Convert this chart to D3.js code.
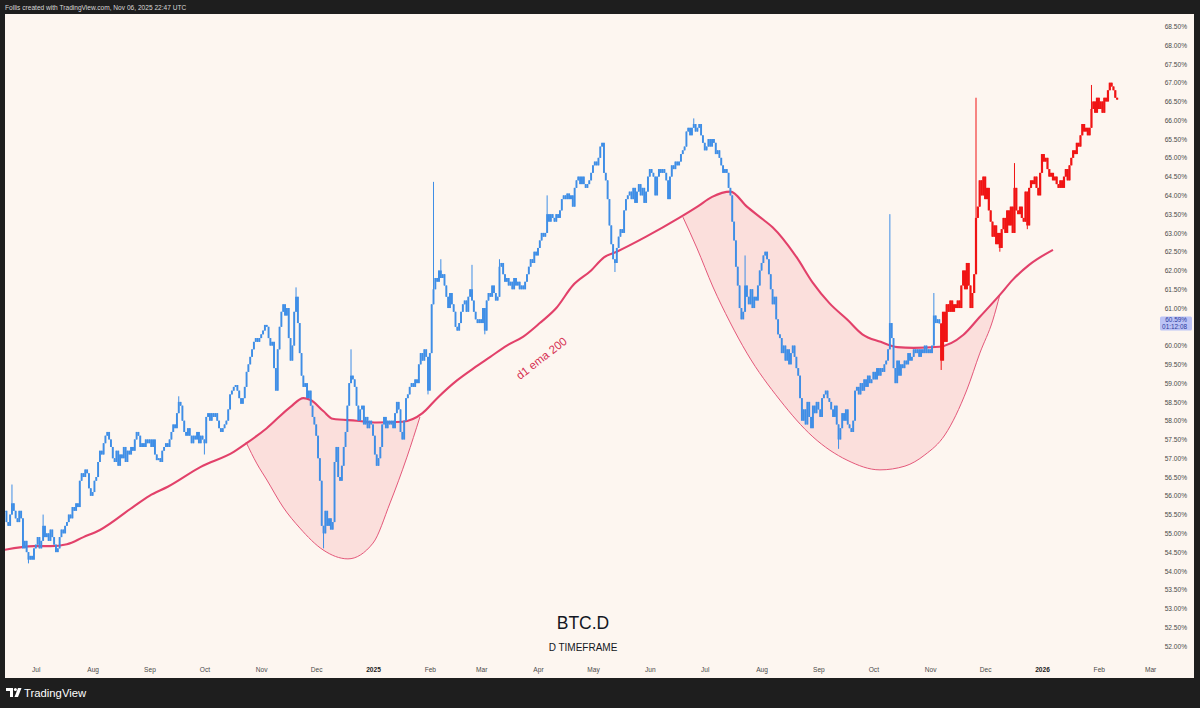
<!DOCTYPE html>
<html><head><meta charset="utf-8">
<script src="https://cdn.jsdelivr.net/npm/d3@7"></script>
<style>
html,body{margin:0;padding:0;background:#1e1e1e;}
svg{display:block;}
text{font-family:"Liberation Sans",Arial,sans-serif;}
</style></head><body>
<svg id="c" width="1200" height="708"></svg>
<script>
// ---------------- DATA ----------------
const firstDay = "2024-06-14";           // index 0 of the daily series
// BTC.D daily closes (%), Jun 14 2024 -> Nov 6 2025 (open = previous close)
const blueClose = [
55.6,55.3,55.2,55.5,55.8,55.6,55.4,55.3,55.6,55.4,
54.6,54.8,54.5,54.3,54.4,54.3,54.6,54.7,54.9,54.6,
54.8,55.2,54.9,55.0,54.8,55.1,54.9,54.7,54.5,54.6,
54.9,55.1,55.0,55.2,55.3,55.5,55.4,55.7,55.6,55.8,
55.7,56.4,56.6,56.5,56.7,56.6,56.2,56.0,56.1,56.4,
56.5,56.9,57.2,57.1,57.4,57.6,57.7,57.5,57.3,57.0,
56.9,57.2,56.8,57.1,57.0,57.3,56.9,57.2,57.1,57.3,
57.2,57.5,57.7,57.6,57.3,57.4,57.3,57.5,57.4,57.5,
57.3,57.5,57.1,56.95,57.0,56.9,57.2,57.3,57.4,57.3,
57.5,57.7,57.9,57.8,58.2,58.5,58.4,58.0,57.7,57.6,
57.8,57.6,57.4,57.6,57.5,57.7,57.4,57.6,57.5,57.4,
58.1,58.2,58.0,58.2,58.1,58.2,58.0,57.8,57.7,57.8,
57.9,58.0,58.3,58.7,58.8,58.9,58.95,58.8,58.6,58.45,
58.6,58.9,59.3,59.5,59.7,59.9,60.1,60.2,60.1,60.2,
60.3,60.4,60.55,60.5,60.2,60.0,60.1,59.4,58.8,59.9,
60.5,60.9,61.1,60.8,61.0,60.2,59.6,60.0,60.9,61.3,
60.6,59.8,59.2,58.9,59.0,58.6,58.8,58.4,58.1,57.9,
57.6,57.0,56.4,55.2,55.0,55.6,55.2,55.4,55.1,55.3,
56.9,57.3,56.5,56.4,56.8,57.3,57.7,58.4,59.0,59.2,
59.1,58.9,58.4,58.0,58.3,58.4,57.9,58.1,57.8,58.0,
57.9,57.6,57.1,56.8,57.0,57.3,57.9,58.1,57.8,58.0,
57.9,58.0,57.8,58.2,58.5,58.3,57.7,57.5,58.0,58.6,
58.7,58.9,59.0,58.9,59.1,59.0,59.5,59.8,59.6,59.9,
59.7,58.8,59.8,61.1,61.5,61.8,61.7,62.0,61.8,61.9,
61.6,61.3,61.0,61.4,61.1,60.9,60.5,60.4,60.6,60.9,
61.1,61.2,60.9,61.3,61.5,61.2,60.9,60.7,60.6,60.7,
60.6,61.0,60.4,61.2,61.4,61.3,61.6,61.4,61.2,61.3,
62.1,62.2,61.9,61.7,61.8,61.6,61.7,61.5,61.8,61.6,
61.7,61.5,61.6,61.5,61.7,61.9,62.1,62.3,62.2,62.5,
62.4,62.6,62.8,63.0,62.9,63.0,63.5,63.3,63.5,63.4,
63.3,63.5,63.4,63.6,63.9,64.0,63.9,64.05,63.9,64.0,
63.7,64.2,64.4,64.5,64.3,64.5,64.3,64.2,64.3,64.4,
64.6,64.8,64.9,64.8,65.0,65.3,65.4,64.6,64.4,63.9,
63.2,62.7,62.3,62.2,62.6,62.9,63.1,63.0,63.6,63.9,
64.0,64.1,63.9,64.2,63.8,64.1,64.3,64.0,64.2,63.8,
64.1,64.5,64.7,64.6,64.5,64.0,64.5,64.7,64.6,64.7,
64.6,64.4,63.9,64.5,64.8,64.7,64.9,64.8,64.9,65.1,
65.2,65.3,65.7,65.8,65.6,65.8,65.9,65.7,65.8,65.9,
65.6,65.4,65.2,65.3,65.5,65.3,65.5,65.4,65.1,65.2,
65.0,64.8,64.6,64.7,64.6,64.2,64.0,63.3,62.8,62.1,
61.6,61.0,60.7,60.9,61.6,61.3,61.1,61.5,61.0,61.3,
61.2,61.6,62.0,62.2,62.4,62.5,62.3,61.9,61.5,61.1,
61.3,60.7,60.3,60.2,59.8,60.0,59.6,59.9,59.5,59.8,
60.0,59.7,59.4,59.2,58.6,58.0,58.3,57.9,58.5,58.1,
57.8,58.4,58.2,58.5,58.3,58.1,58.6,58.7,58.8,58.6,
58.5,58.3,58.1,58.4,57.9,57.5,57.8,58.2,58.0,58.3,
57.9,57.8,57.7,58.0,58.8,58.9,58.7,59.0,58.8,59.1,
58.9,59.2,59.0,59.1,59.3,59.1,59.4,59.2,59.4,59.3,
59.5,59.6,59.9,60.6,60.2,59.4,59.0,59.6,59.2,59.5,
59.4,59.6,59.5,59.8,59.6,59.7,59.9,59.8,59.9,59.7,
59.9,59.8,60.0,59.8,59.9,59.8,60.0,60.8,60.6,60.7,60.59
];
// projected path (red), Nov 7 2025 -> Feb 2026
const redClose = [
59.6,60.9,60.1,61.1,60.9,61.2,60.9,61.1,61.0,61.2,
61.0,61.6,62.0,61.5,62.2,61.6,61.0,61.4,61.9,63.4,
63.7,64.4,64.0,64.5,63.9,64.2,63.6,63.3,62.9,63.2,
62.7,63.0,62.6,63.1,63.4,63.0,63.6,63.2,63.7,63.0,
64.2,63.6,63.5,63.7,63.4,63.3,64.1,63.2,64.2,64.4,
64.3,64.5,64.2,64.0,64.6,65.1,64.9,65.0,64.7,64.5,
64.6,64.4,64.5,64.3,64.2,64.4,64.2,64.5,64.7,64.4,
64.8,65.0,65.2,65.1,65.4,65.3,65.6,65.9,65.7,65.8,
65.6,65.8,66.3,66.5,66.2,66.6,66.3,66.5,66.2,66.6,
66.5,66.8,67.0,66.9,66.8,66.6,66.55
];
// notable wicks (day index, value)
const wickHighIdx = [4,21,95,159,189,234,238,255,270,296,376,404,483,507,530,551,593];
const wickHighVal = [56.3,55.5,58.65,61.55,59.9,64.36,62.3,62.15,62.3,64.0,66.05,62.4,63.5,61.4,66.6,64.86,66.94];
const wickLowIdx  = [13,109,174,231,262,333,455,511,543,558];
const wickLowVal  = [54.2,57.1,54.6,58.7,60.3,61.96,57.25,59.35,62.5,63.1];
// d1 EMA 200 (day index, value)
const emaIdx = [0,16,25,34,43,52,70,79,89,107,125,132,143,156,163,167,174,179,192,203,217,228,236,247,256,265,274,283,292,301,310,320,327,334,350,368,378,386,396,405,414,419,432,441,450,460,468,478,487,496,510,523,532,543,550,559,572];
const emaVal = [54.56,54.66,54.66,54.71,54.9,55.09,55.7,56.0,56.24,56.77,57.17,57.4,57.8,58.37,58.6,58.55,58.25,58.05,58.0,57.95,57.97,58.2,58.6,59.08,59.4,59.7,60.0,60.24,60.6,61.0,61.6,62.0,62.35,62.5,62.9,63.4,63.7,63.96,64.1,63.7,63.35,63.15,62.36,61.67,61.13,60.68,60.3,60.1,59.96,59.94,59.97,60.28,60.76,61.35,61.75,62.15,62.55];
// cup curves (day index, value)
const cup1Idx = [131.7,137.7,143.1,151.9,161.1,173.7,187.3,201,210.3,219.5,226.6];
const cup1Val = [57.43,56.85,56.42,55.70,55.14,54.56,54.32,54.74,55.81,57.03,58.10];
const cup2Idx = [370.1,377.7,386.5,395.7,405,423,441,459.6,477.6,491.2,502.1,513,525,532.1,539.2,543];
const cup2Val = [63.42,62.60,61.56,60.63,59.80,58.55,57.57,56.95,56.69,56.79,57.09,57.62,58.82,59.80,60.68,61.35];
// axes
const yTicks = [52.0,52.5,53.0,53.5,54.0,54.5,55.0,55.5,56.0,56.5,57.0,57.5,58.0,58.5,59.0,59.5,60.0,61.0,61.5,62.0,62.5,63.0,63.5,64.0,64.5,65.0,65.5,66.0,66.5,67.0,67.5,68.0,68.5];
const monthDates = ["2024-07-01","2024-08-01","2024-09-01","2024-10-01","2024-11-01","2024-12-01","2025-01-01","2025-02-01","2025-03-01","2025-04-01","2025-05-01","2025-06-01","2025-07-01","2025-08-01","2025-09-01","2025-10-01","2025-11-01","2025-12-01","2026-01-01","2026-02-01","2026-03-01"];
const monthLabels = ["Jul","Aug","Sep","Oct","Nov","Dec","2025","Feb","Mar","Apr","May","Jun","Jul","Aug","Sep","Oct","Nov","Dec","2026","Feb","Mar"];
const lastPrice = 60.59, countdown = "01:12:08";

// ---------------- DRAW ----------------
const W = 1200, H = 708;
const P = {x0:5, x1:1194, y0:14, y1:678, plotR:1158};
const svg = d3.select("#c");
svg.append("rect").attr("width",W).attr("height",H).attr("fill","#1e1e1e");
svg.append("rect").attr("x",P.x0).attr("y",P.y0).attr("width",P.x1-P.x0).attr("height",P.y1-P.y0).attr("fill","#fdf6f0");

const parse = d3.utcParse("%Y-%m-%d");
const d0 = parse(firstDay);
const dayDate = i => new Date(d0.getTime() + i*864e5);
const x = d3.scaleUtc()
  .domain([new Date(Date.UTC(2024,5,14,4,48)), new Date(Date.UTC(2026,2,5,7,12))])
  .range([P.x0, P.plotR]);
const y = d3.scaleLinear().domain([52,68.5]).range([646,26.4]);
const xi = i => x(dayDate(i));

const defs = svg.append("defs");
defs.append("clipPath").attr("id","plotClip").append("rect")
  .attr("x",P.x0).attr("y",P.y0).attr("width",P.plotR-P.x0).attr("height",P.y1-P.y0);

const emaPts = emaIdx.map((d,k)=>[d,emaVal[k]]);
const lineGen = d3.line().x(d=>xi(d[0])).y(d=>y(d[1])).curve(d3.curveMonotoneX);
const belowEma = d3.area().x(d=>xi(d[0])).y0(P.y1).y1(d=>y(d[1])).curve(d3.curveMonotoneX);
defs.append("clipPath").attr("id","emaClip").append("path").attr("d", belowEma(emaPts));

const plot = svg.append("g").attr("clip-path","url(#plotClip)");

function cup(idx, val){
  const pts = idx.map((d,k)=>[d,val[k]]);
  const curve = lineGen(pts);
  const fillD = curve + `L${xi(idx[idx.length-1])},${P.y0}L${xi(idx[0])},${P.y0}Z`;
  plot.append("path").attr("d",fillD).attr("clip-path","url(#emaClip)")
    .attr("fill","rgba(242,110,125,0.17)");
  plot.append("path").attr("d",curve).attr("fill","none")
    .attr("stroke","#e4587a").attr("stroke-width",1);
}
cup(cup1Idx,cup1Val);
cup(cup2Idx,cup2Val);

plot.append("path").attr("d",lineGen(emaPts)).attr("fill","none")
  .attr("stroke","#e2416a").attr("stroke-width",2.1);

function candles(closes, startIdx, firstOpen, color, bw){
  const data = closes.map((c,k)=>{
    const i = startIdx+k;
    const o = k===0 ? firstOpen : closes[k-1];
    let hi = Math.max(o,c), lo = Math.min(o,c);
    const h = wickHighIdx.indexOf(i); if(h>=0) hi = Math.max(hi, wickHighVal[h]);
    const l = wickLowIdx.indexOf(i);  if(l>=0) lo = Math.min(lo, wickLowVal[l]);
    return {i,o,c,hi,lo};
  });
  const g = plot.append("g");
  g.selectAll("line").data(data).join("line")
    .attr("x1",d=>xi(d.i)).attr("x2",d=>xi(d.i))
    .attr("y1",d=>y(d.hi)).attr("y2",d=>y(d.lo))
    .attr("stroke",color).attr("stroke-width",1);
  g.selectAll("rect").data(data).join("rect")
    .attr("x",d=>xi(d.i)-bw/2).attr("width",bw)
    .attr("y",d=>y(Math.max(d.o,d.c)))
    .attr("height",d=>Math.max(1, Math.abs(y(d.o)-y(d.c))))
    .attr("fill",color);
}
candles(blueClose, 0, blueClose[0], "#3f8ee6", 1.9);
candles(redClose, blueClose.length, blueClose[blueClose.length-1], "#f01414", 2.2);

svg.append("text").attr("transform","translate(542,359) rotate(-38)")
  .attr("text-anchor","middle").attr("dominant-baseline","middle")
  .attr("font-size",11.5).attr("fill","#d62f52").text("d1 ema 200");

const yAxis = svg.append("g").attr("transform","translate(1187,0)")
  .call(d3.axisLeft(y).tickValues(yTicks).tickSize(0).tickPadding(0).tickFormat(d=>d.toFixed(2)+"%"));
yAxis.select(".domain").remove();
yAxis.selectAll("text").attr("font-size",6.6).attr("fill","#4a4a4a")
  .attr("font-family","Liberation Sans, Arial, sans-serif");

const py = y(lastPrice);
svg.append("rect").attr("x",1160).attr("y",py-7).attr("width",32).attr("height",14).attr("rx",1.5).attr("fill","#bcc3f5");
svg.append("text").attr("x",1187).attr("y",py-1.2).attr("text-anchor","end").attr("font-size",6.4).attr("fill","#2b3aa0").text(lastPrice.toFixed(2)+"%");
svg.append("text").attr("x",1187).attr("y",py+5.3).attr("text-anchor","end").attr("font-size",6.4).attr("fill","#2b3aa0").text(countdown);

const xAxis = svg.append("g").attr("transform","translate(0,667)")
  .call(d3.axisBottom(x).tickValues(monthDates.map(parse)).tickSize(0).tickPadding(0)
    .tickFormat((d,k)=>monthLabels[k]));
xAxis.select(".domain").remove();
xAxis.selectAll("text").attr("font-size",6.6).attr("font-family","Liberation Sans, Arial, sans-serif")
  .attr("fill",(d,k)=>/^\d{4}$/.test(monthLabels[k]) ? "#1a1a1a" : "#4a4a4a")
  .attr("font-weight",(d,k)=>/^\d{4}$/.test(monthLabels[k]) ? "bold" : "normal");

svg.append("text").attr("x",583).attr("y",629).attr("text-anchor","middle")
  .attr("font-size",17.5).attr("fill","#131722").text("BTC.D");
svg.append("text").attr("x",583).attr("y",651).attr("text-anchor","middle")
  .attr("font-size",10).attr("fill","#131722").text("D TIMEFRAME");

svg.append("text").attr("x",5).attr("y",9.5).attr("font-size",6.6).attr("fill","#d8d8d8")
  .text("Follis created with TradingView.com, Nov 06, 2025 22:47 UTC");
const logo = svg.append("g").attr("transform","translate(6,688)").attr("fill","#ffffff");
logo.append("path").attr("d","M0,0H7V9H4V3H0Z");
logo.append("circle").attr("cx",9.4).attr("cy",1.5).attr("r",1.5);
logo.append("path").attr("d","M12,0H15.5L12,9H8.5Z");
svg.append("text").attr("x",24).attr("y",696.5).attr("font-size",11.3).attr("fill","#ffffff")
  .attr("font-weight","500").text("TradingView");
</script>
</body></html>
